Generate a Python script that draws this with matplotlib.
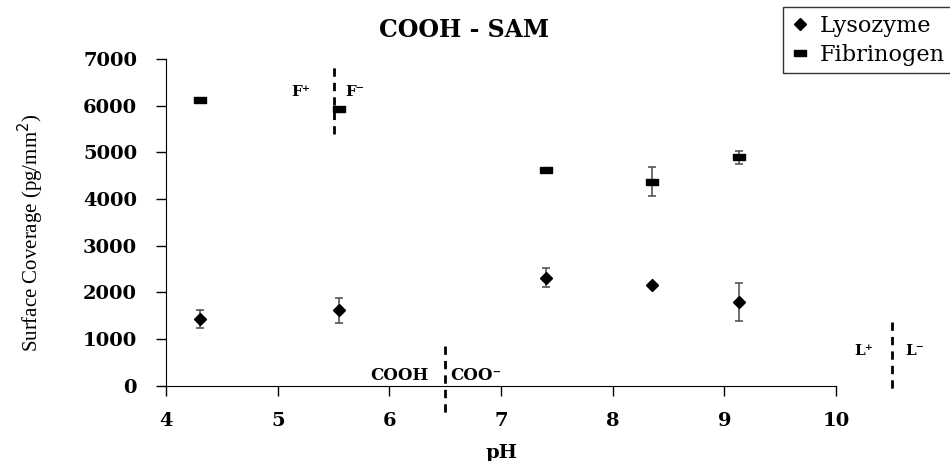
import numpy as np
import matplotlib.pyplot as plt
from matplotlib.lines import Line2D

# pH values for both proteins
ph = [4.3, 5.55, 7.4, 8.35, 9.13]

# Lysozyme surface coverage (pg/mm2)
lysozyme = [1430, 1620, 2320, 2160, 1800]
lysozyme_err = [195, 270, 210, 0, 410]

# Fibrinogen surface coverage (pg/mm2)
fibrinogen = [6120, 5920, 4620, 4370, 4900]
fibrinogen_err = [0, 0, 0, 310, 140]

# charge boundaries: (x, ymin, ymax)
f_line = (5.5, 5400, 6850)
cooh_line = (6.5, 850, -650)
l_line = (10.5, 1360, -110)

serif = "DejaVu Serif"
plt.rcParams["font.family"] = serif

fig = plt.figure(figsize=(9.5, 4.61), dpi=100)
ax = fig.add_axes([0.175, 0.163, 0.705, 0.709])

rect = [(-1.6, -1), (1.6, -1), (1.6, 1), (-1.6, 1), (-1.6, -1)]

ax.errorbar(ph, lysozyme, yerr=lysozyme_err, fmt="none", ecolor="#555555",
            elinewidth=1.2, capsize=3, capthick=1.2)
ax.errorbar(ph, fibrinogen, yerr=fibrinogen_err, fmt="none", ecolor="#555555",
            elinewidth=1.2, capsize=3, capthick=1.2)
ax.plot(ph, lysozyme, linestyle="none", marker="D", markersize=6, color="black")
ax.plot(ph, fibrinogen, linestyle="none", marker=rect, markersize=8, color="black")

# dashed boundary lines
for x, y0, y1 in [f_line, cooh_line, l_line]:
    ax.plot([x, x], [y0, y1], color="black", linestyle=(0, (3, 2.2)),
            linewidth=2, clip_on=False)

lab = dict(fontsize=11, fontweight="bold", va="center")
ax.text(5.29, 6300, "F⁺", ha="right", **lab)
ax.text(5.6, 6300, "F⁻", ha="left", **lab)
ax.text(6.35, 220, "COOH", ha="right", fontsize=12, fontweight="bold", va="center")
ax.text(6.54, 220, "COO⁻", ha="left", fontsize=12, fontweight="bold", va="center")
ax.text(10.33, 740, "L⁺", ha="right", **lab)
ax.text(10.62, 740, "L⁻", ha="left", **lab)

ax.set_xlim(4, 10)
ax.set_ylim(0, 7000)
ax.set_xticks([4, 5, 6, 7, 8, 9, 10])
ax.set_yticks(np.arange(0, 7001, 1000))
ax.spines["top"].set_visible(False)
ax.spines["right"].set_visible(False)
ax.tick_params(direction="out", length=7, width=1, labelsize=14)
ax.tick_params(axis="x", pad=12)
ax.tick_params(axis="y", pad=14)
for t in ax.get_xticklabels() + ax.get_yticklabels():
    t.set_fontweight("bold")

ax.set_xlabel("pH", fontsize=14, fontweight="bold", labelpad=10)
ax.set_ylabel("Surface Coverage (pg/mm$^2$)", fontsize=15,
              family="Liberation Serif")
ax.yaxis.set_label_coords(-0.18, 0.468)
fig.text(0.488, 0.935, "COOH - SAM", ha="center", va="center",
         fontsize=17, fontweight="bold")

handles = [
    Line2D([], [], linestyle="none", marker="D", markersize=6, color="black"),
    Line2D([], [], linestyle="none", marker=rect, markersize=8, color="black"),
]
leg = fig.legend(handles, ["Lysozyme", "Fibrinogen"], loc="upper left",
                 bbox_to_anchor=(783 / 950, 1 - 7 / 461), fontsize=16.2,
                 frameon=True, fancybox=False, edgecolor="black",
                 handlelength=0.8, handletextpad=0.5, borderpad=0.35,
                 labelspacing=0.3, borderaxespad=0)
leg.get_frame().set_linewidth(1)

fig.savefig("out.png", dpi=100)
